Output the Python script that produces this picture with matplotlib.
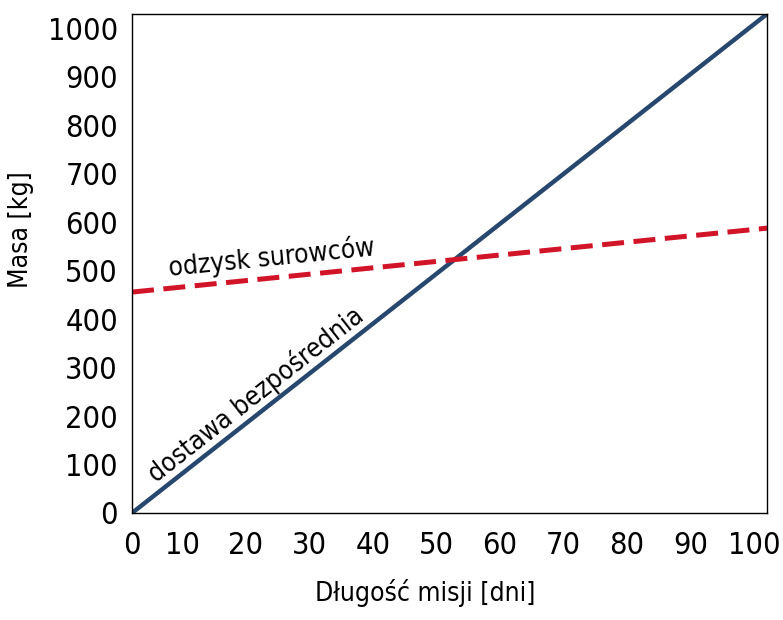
import numpy as np
import matplotlib
matplotlib.use("Agg")
import matplotlib.pyplot as plt
from matplotlib.transforms import ScaledTranslation

plt.rcParams['font.family'] = ['Liberation Sans Narrow', 'DejaVu Sans']
plt.rcParams['font.stretch'] = 'condensed'

# dane
dni = [0, 100]
dostawa = [0, 1030]      # dostawa bezpośrednia
odzysk = [456, 588]      # odzysk surowców
x_ticks = list(range(0, 101, 10))
y_ticks = list(range(0, 1001, 100))

fig = plt.figure(figsize=(7.83, 6.2), dpi=100)
ax = fig.add_axes([0.1686, 0.1726, 0.9796 - 0.1686, 0.9774 - 0.1726])

ax.plot(dni, dostawa, color="#27476f", lw=3.2, solid_capstyle="butt")
ax.plot(dni, odzysk, color="#d21428", lw=3.6, dashes=(4.4, 1.9))

ax.set_xlim(0, 100)
ax.set_ylim(0, 1030)
ax.set_xticks(x_ticks)
ax.set_yticks(y_ticks)
ax.tick_params(length=0, labelsize=22)
ax.tick_params(axis="x", pad=13)
ax.tick_params(axis="y", pad=10)
for s in ax.spines.values():
    s.set_linewidth(1.0)

# etykiety osi x lekko przesunięte w lewo, jak w oryginale
for lab in ax.get_xticklabels()[1:]:
    lab.set_transform(lab.get_transform() + ScaledTranslation(-0.13, 0, fig.dpi_scale_trans))

ax.set_xlabel("Długość misji [dni]", fontsize=19)
ax.set_ylabel("Masa [kg]", fontsize=19)
ax.xaxis.set_label_coords(0.461, -0.132)
ax.yaxis.set_label_coords(-0.155, 0.567)


def angle(xs, ys):
    p = ax.transData.transform(np.column_stack([xs, ys]))
    return np.degrees(np.arctan2(p[1, 1] - p[0, 1], p[1, 0] - p[0, 0]))


ax.text(19.5, 243, "dostawa bezpośrednia", fontsize=19, rotation=angle(dni, dostawa),
        rotation_mode="anchor", ha="center", va="center")
ax.text(22, 526, "odzysk surowców", fontsize=19, rotation=angle(dni, odzysk),
        rotation_mode="anchor", ha="center", va="center")

fig.savefig("out.png", dpi=100)
